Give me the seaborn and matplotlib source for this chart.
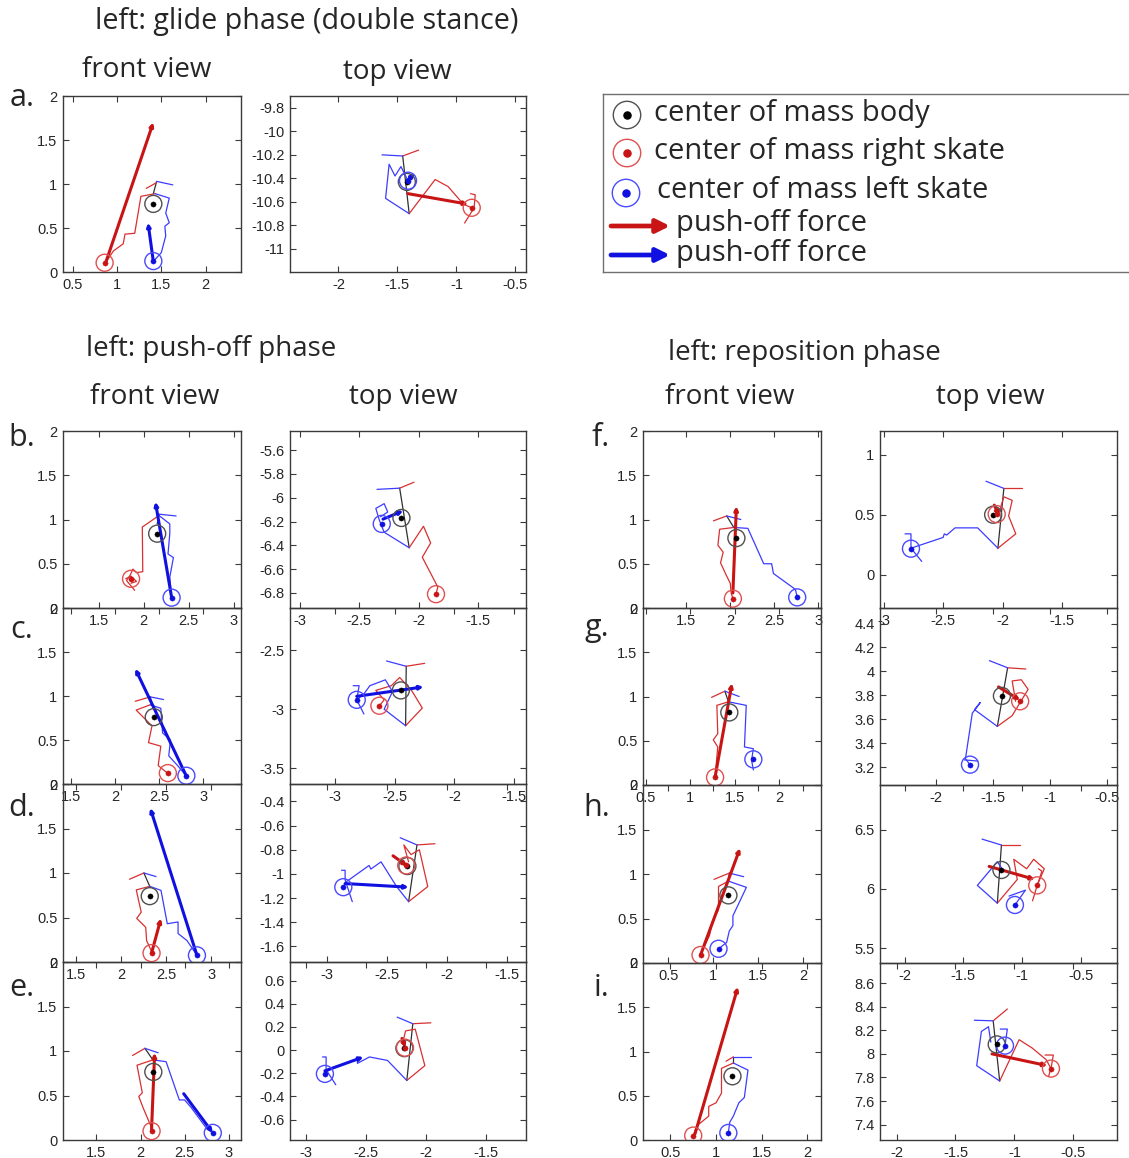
import numpy as np
import pandas as pd
import matplotlib
matplotlib.use("Agg")
import matplotlib.pyplot as plt
import seaborn as sns
from matplotlib.ticker import MultipleLocator, FuncFormatter

# ---------------------------------------------------------------------------
# data: stick figures (red = right leg, blue = left leg), COMs, push-off forces
# com lists are [body, right skate, left skate]
# ---------------------------------------------------------------------------
a_front_red = [[(1.33, 0.95), (1.445, 1.015)],
               [(0.87, 0.105), (0.96, 0.24), (1.07, 0.32), (1.09, 0.43), (1.20, 0.44), (1.22, 0.56), (1.27, 0.86), (1.43, 0.89)]]
a_front_blue = [[(1.445, 1.03), (1.63, 0.99)],
                [(1.43, 0.89), (1.59, 0.84), (1.55, 0.67), (1.59, 0.56), (1.54, 0.52), (1.55, 0.41), (1.50, 0.22), (1.41, 0.12)]]
a_front_black = [[(1.445, 1.02), (1.41, 0.89)]]
a_front_com = [(1.41, 0.774), (0.86, 0.105), (1.41, 0.124)]
a_front_push_red = [(0.87, 0.10), (1.41, 1.70)]
a_front_push_blue = [(1.41, 0.12), (1.35, 0.56)]

a_top_red = [[(-1.455, -10.21), (-1.32, -10.16)],
             [(-1.40, -10.70), (-1.18, -10.41), (-1.07, -10.47), (-0.94, -10.62), (-0.87, -10.65)],
             [(-0.88, -10.53), (-0.84, -10.54), (-0.85, -10.65), (-0.93, -10.78)]]
a_top_blue = [[(-1.63, -10.20), (-1.455, -10.21)],
              [(-1.40, -10.70), (-1.60, -10.57), (-1.57, -10.28), (-1.52, -10.38), (-1.47, -10.30), (-1.42, -10.40)]]
a_top_black = [[(-1.455, -10.21), (-1.40, -10.70)]]
a_top_com = [(-1.42, -10.43), (-0.87, -10.65), (-1.41, -10.42)]
a_top_push_red = [(-1.41, -10.53), (-0.90, -10.62)]
a_top_push_blue = [(-1.42, -10.42), (-1.35, -10.36)]

b_front_red = [[(2.17, 1.045), (1.985, 0.915), (1.99, 0.41), (1.92, 0.40), (1.88, 0.44), (1.85, 0.37), (1.81, 0.31), (1.90, 0.20)],
               [(1.80, 0.33), (1.86, 0.36), (1.92, 0.30), (1.86, 0.28)]]
b_front_blue = [[(2.17, 1.06), (2.36, 1.04)],
                [(2.17, 1.045), (2.29, 0.95), (2.29, 0.84), (2.27, 0.61), (2.33, 0.57), (2.31, 0.46), (2.29, 0.35), (2.31, 0.12)]]
b_front_black = [[(2.17, 1.06), (2.15, 0.95)]]
b_front_com = [(2.15, 0.84), (1.86, 0.33), (2.31, 0.117)]
b_front_push_red = None
b_front_push_blue = [(2.31, 0.12), (2.13, 1.20)]

b_top_red = [[(-2.16, -5.92), (-2.04, -5.87)],
             [(-2.08, -6.42), (-1.96, -6.24), (-1.90, -6.38), (-1.97, -6.50), (-1.84, -6.75), (-1.855, -6.81)]]
b_top_blue = [[(-2.35, -5.93), (-2.16, -5.92)],
              [(-2.08, -6.42), (-2.29, -6.29), (-2.33, -6.19), (-2.36, -6.09), (-2.29, -6.05), (-2.26, -6.12), (-2.32, -6.16)]]
b_top_black = [[(-2.16, -5.92), (-2.08, -6.42)]]
b_top_com = [(-2.145, -6.17), (-1.855, -6.81), (-2.31, -6.22)]
b_top_push_red = None
b_top_push_blue = [(-2.30, -6.18), (-2.13, -6.11)]

c_front_red = [[(2.23, 0.94), (2.40, 0.99)],
               [(2.40, 0.90), (2.24, 0.84), (2.42, 0.66), (2.38, 0.47), (2.52, 0.43), (2.49, 0.21), (2.60, 0.12)]]
c_front_blue = [[(2.40, 0.99), (2.55, 0.96)],
                [(2.40, 0.90), (2.52, 0.86), (2.54, 0.58), (2.63, 0.50), (2.61, 0.32), (2.71, 0.21), (2.81, 0.09)]]
c_front_black = [[(2.40, 0.99), (2.42, 0.90)]]
c_front_com = [(2.44, 0.76), (2.60, 0.124), (2.81, 0.094)]
c_front_push_red = None
c_front_push_blue = [(2.81, 0.09), (2.23, 1.31)]

c_top_red = [[(-2.405, -2.635), (-2.25, -2.61)],
             [(-2.41, -3.14), (-2.27, -2.99), (-2.36, -2.84), (-2.46, -2.73), (-2.53, -2.80), (-2.66, -2.84), (-2.59, -2.92), (-2.63, -2.97)]]
c_top_blue = [[(-2.57, -2.59), (-2.405, -2.635)],
              [(-2.41, -3.14), (-2.59, -3.0), (-2.52, -2.85), (-2.58, -2.75), (-2.71, -2.80), (-2.76, -2.87), (-2.82, -2.92)],
              [(-2.85, -2.80), (-2.80, -2.80), (-2.82, -2.92), (-2.76, -3.04)]]
c_top_black = [[(-2.405, -2.635), (-2.41, -3.14)]]
c_top_com = [(-2.45, -2.84), (-2.63, -2.97), (-2.82, -2.92)]
c_top_push_red = None
c_top_push_blue = [(-2.82, -2.89), (-2.26, -2.81)]

d_front_red = [[(2.09, 0.93), (2.25, 1.0)],
               [(2.315, 0.85), (2.165, 0.81), (2.22, 0.56), (2.17, 0.49), (2.27, 0.39), (2.28, 0.24), (2.33, 0.13)]]
d_front_blue = [[(2.25, 1.0), (2.385, 0.96)],
                [(2.315, 0.85), (2.44, 0.805), (2.51, 0.43), (2.63, 0.45), (2.63, 0.32), (2.73, 0.24), (2.84, 0.075)]]
d_front_black = [[(2.25, 1.0), (2.315, 0.85)]]
d_front_com = [(2.315, 0.74), (2.335, 0.10), (2.84, 0.075)]
d_front_push_red = [(2.335, 0.10), (2.44, 0.49)]
d_front_push_blue = [(2.84, 0.075), (2.32, 1.73)]

d_top_red = [[(-2.25, -0.76), (-2.10, -0.75)],
             [(-2.32, -1.23), (-2.16, -1.105), (-2.23, -0.80), (-2.30, -0.84), (-2.36, -0.76), (-2.32, -0.90)]]
d_top_blue = [[(-2.39, -0.70), (-2.25, -0.76)],
              [(-2.32, -1.23), (-2.42, -1.105), (-2.55, -0.90), (-2.635, -0.96), (-2.65, -0.93), (-2.84, -1.065), (-2.865, -1.11)],
              [(-2.88, -0.97), (-2.85, -0.97), (-2.85, -1.05), (-2.79, -1.23)]]
d_top_black = [[(-2.25, -0.76), (-2.32, -1.23)]]
d_top_com = [(-2.33, -0.935), (-2.34, -0.93), (-2.865, -1.11)]
d_top_push_red = [(-2.45, -0.85), (-2.33, -0.935)]
d_top_push_blue = [(-2.85, -1.08), (-2.32, -1.11)]

e_front_red = [[(1.91, 0.95), (2.05, 1.03)],
               [(2.14, 0.90), (1.96, 0.84), (2.02, 0.53), (1.98, 0.49), (2.03, 0.36), (2.12, 0.15)]]
e_front_blue = [[(2.05, 1.03), (2.20, 0.98)],
                [(2.14, 0.90), (2.29, 0.88), (2.44, 0.45), (2.50, 0.45), (2.57, 0.37), (2.75, 0.13), (2.82, 0.08)]]
e_front_black = [[(2.05, 1.03), (2.14, 0.90)]]
e_front_com = [(2.145, 0.765), (2.125, 0.10), (2.82, 0.08)]
e_front_push_red = [(2.125, 0.12), (2.16, 0.98)]
e_front_push_blue = [(2.49, 0.52), (2.82, 0.08)]

e_top_red = [[(-2.11, 0.227), (-1.96, 0.235)],
             [(-2.16, -0.263), (-2.01, -0.135), (-2.09, 0.18), (-2.17, 0.165), (-2.19, 0.08)]]
e_top_blue = [[(-2.24, 0.284), (-2.11, 0.227)],
              [(-2.16, -0.263), (-2.32, -0.09), (-2.47, -0.06), (-2.57, -0.115), (-2.57, -0.08), (-2.80, -0.165), (-2.84, -0.206)],
              [(-2.86, -0.06), (-2.83, -0.06), (-2.83, -0.17), (-2.75, -0.30)]]
e_top_black = [[(-2.11, 0.227), (-2.16, -0.263)]]
e_top_com = [(-2.18, 0.016), (-2.175, 0.02), (-2.84, -0.206)]
e_top_push_red = [(-2.20, 0.10), (-2.17, 0.02)]
e_top_push_blue = [(-2.84, -0.18), (-2.52, -0.06)]

f_front_red = [[(1.81, 0.985), (1.96, 1.04)],
               [(2.04, 0.91), (1.88, 0.89), (1.86, 0.71), (1.92, 0.63), (1.89, 0.51), (1.96, 0.36), (2.00, 0.28), (2.01, 0.17), (2.03, 0.11)]]
f_front_blue = [[(1.96, 1.04), (2.12, 1.00)],
                [(2.04, 0.91), (2.20, 0.90), (2.38, 0.50), (2.47, 0.50), (2.49, 0.39), (2.74, 0.21), (2.76, 0.12)]]
f_front_black = [[(1.96, 1.04), (2.04, 0.91)]]
f_front_com = [(2.07, 0.79), (2.03, 0.106), (2.76, 0.12)]
f_front_push_red = [(2.03, 0.17), (2.07, 1.15)]
f_front_push_blue = None

f_top_red = [[(-1.99, 0.72), (-1.84, 0.72)],
             [(-2.04, 0.22), (-1.89, 0.34), (-1.95, 0.49), (-1.92, 0.62), (-1.99, 0.65), (-2.03, 0.52)]]
f_top_blue = [[(-2.14, 0.78), (-1.99, 0.72)],
              [(-2.04, 0.22), (-2.21, 0.39), (-2.40, 0.39), (-2.47, 0.33), (-2.49, 0.34), (-2.50, 0.31), (-2.77, 0.22)],
              [(-2.82, 0.34), (-2.77, 0.34), (-2.77, 0.22), (-2.68, 0.11)]]
f_top_black = [[(-1.99, 0.72), (-2.04, 0.22)]]
f_top_com = [(-2.08, 0.50), (-2.05, 0.505), (-2.77, 0.216)]
f_top_push_red = [(-2.07, 0.58), (-2.03, 0.49)]
f_top_push_blue = None

g_front_red = [[(1.24, 0.99), (1.39, 1.06)],
               [(1.43, 0.94), (1.30, 0.90), (1.31, 0.58), (1.26, 0.51), (1.31, 0.43), (1.28, 0.09)]]
g_front_blue = [[(1.39, 1.06), (1.55, 1.00)],
                [(1.43, 0.94), (1.63, 0.90), (1.61, 0.43), (1.71, 0.41), (1.69, 0.28), (1.71, 0.17)]]
g_front_black = [[(1.39, 1.06), (1.43, 0.94)]]
g_front_com = [(1.44, 0.82), (1.28, 0.086), (1.71, 0.29)]
g_front_push_red = [(1.28, 0.09), (1.47, 1.15)]
g_front_push_blue = None

g_top_red = [[(-1.37, 4.03), (-1.21, 4.02)],
             [(-1.46, 3.54), (-1.33, 3.63), (-1.19, 3.85), (-1.25, 3.93), (-1.33, 3.92), (-1.30, 3.75)]]
g_top_blue = [[(-1.53, 4.09), (-1.37, 4.03)],
              [(-1.46, 3.54), (-1.66, 3.68), (-1.61, 3.74), (-1.68, 3.65), (-1.74, 3.27), (-1.70, 3.22)],
              [(-1.75, 3.26), (-1.63, 3.25)]]
g_top_black = [[(-1.37, 4.03), (-1.46, 3.54)]]
g_top_com = [(-1.42, 3.795), (-1.26, 3.75), (-1.70, 3.22)]
g_top_push_red = [(-1.45, 3.87), (-1.26, 3.76)]
g_top_push_blue = None

h_front_red = [[(1.01, 0.94), (1.18, 1.01)],
               [(1.17, 0.92), (1.06, 0.86), (1.06, 0.60), (0.99, 0.46), (0.96, 0.31), (0.89, 0.16), (0.86, 0.09)]]
h_front_blue = [[(1.18, 1.01), (1.34, 0.97)],
                [(1.17, 0.92), (1.37, 0.85), (1.22, 0.53), (1.22, 0.42), (1.18, 0.36), (1.15, 0.23), (1.06, 0.16)]]
h_front_black = [[(1.18, 1.01), (1.17, 0.92)]]
h_front_com = [(1.17, 0.76), (0.86, 0.09), (1.06, 0.16)]
h_front_push_red = [(0.86, 0.09), (1.30, 1.29)]
h_front_push_blue = None

h_top_red = [[(-1.175, 6.37), (-1.02, 6.37)],
             [(-1.21, 5.88), (-1.04, 6.08), (-1.07, 6.25), (-0.96, 6.17), (-0.90, 6.25), (-0.81, 6.17), (-0.87, 6.03)],
             [(-0.86, 6.17), (-0.83, 6.15), (-0.87, 6.03), (-0.91, 5.90)]]
h_top_blue = [[(-1.34, 6.42), (-1.175, 6.37)],
              [(-1.21, 5.88), (-1.38, 6.03), (-1.21, 6.23), (-1.17, 6.17)],
              [(-1.11, 5.94), (-0.97, 5.99), (-1.06, 5.865)]]
h_top_black = [[(-1.175, 6.37), (-1.21, 5.88)]]
h_top_com = [(-1.175, 6.16), (-0.87, 6.03), (-1.06, 5.865)]
h_top_push_red = [(-1.28, 6.19), (-0.89, 6.08)]
h_top_push_blue = None

i_front_red = [[(1.11, 0.89), (1.19, 0.94)],
               [(1.19, 0.87), (1.06, 0.81), (1.06, 0.53), (1.00, 0.42), (0.92, 0.38), (0.92, 0.27), (0.79, 0.16), (0.75, 0.05)]]
i_front_blue = [[(1.19, 0.94), (1.38, 0.94)],
                [(1.19, 0.87), (1.35, 0.79), (1.31, 0.48), (1.25, 0.42), (1.19, 0.27), (1.15, 0.20), (1.135, 0.08)]]
i_front_black = [[(1.19, 0.94), (1.19, 0.87)]]
i_front_com = [(1.18, 0.72), (0.75, 0.05), (1.135, 0.08)]
i_front_push_red = [(0.77, 0.07), (1.24, 1.73)]
i_front_push_blue = None

i_top_red = [[(-1.18, 8.28), (-1.06, 8.38)],
             [(-1.125, 7.77), (-0.96, 8.12), (-0.85, 8.05), (-0.73, 7.95), (-0.69, 7.875)],
             [(-0.74, 7.99), (-0.67, 7.99), (-0.69, 7.875), (-0.71, 7.81)]]
i_top_blue = [[(-1.34, 8.285), (-1.18, 8.28)],
              [(-1.125, 7.77), (-1.32, 7.90), (-1.28, 8.19), (-1.22, 8.23), (-1.20, 8.10)],
              [(-1.12, 8.21), (-1.06, 8.21), (-1.08, 8.07)]]
i_top_black = [[(-1.18, 8.28), (-1.125, 7.77)]]
i_top_com = [(-1.15, 8.08), (-0.69, 7.875), (-1.08, 8.07)]
i_top_push_red = [(-1.19, 8.0), (-0.72, 7.90)]
i_top_push_blue = None

# axis ranges per panel (front x, top x, top y) and top-view y tick step
front_xlim = {"a": (0.39, 2.40), "b": (1.105, 3.08), "c": (1.41, 3.43), "d": (1.35, 3.33), "e": (1.12, 3.14),
              "f": (1.01, 3.03), "g": (0.47, 2.47), "h": (0.22, 2.20), "i": (0.20, 2.15)}
top_xlim = {"a": (-2.41, -0.41), "b": (-3.08, -1.10), "c": (-3.38, -1.40), "d": (-3.31, -1.34), "e": (-3.13, -1.17),
            "f": (-3.03, -1.04), "g": (-2.49, -0.41), "h": (-2.21, -0.19), "i": (-2.14, -0.13)}
top_ylim = {"a": (-11.196, -9.70), "b": (-6.926, -5.44), "c": (-3.635, -2.14), "d": (-1.73, -0.255), "e": (-0.777, 0.76),
            "f": (-0.28, 1.2), "g": (3.05, 4.53), "h": (5.376, 6.876), "i": (7.27, 8.77)}
top_ystep = {"a": 0.2, "b": 0.2, "c": 0.5, "d": 0.2, "e": 0.2, "f": 0.5, "g": 0.2, "h": 0.5, "i": 0.2}

# ---------------------------------------------------------------------------
W, H = 1129, 1158
RED_LINE, BLUE_LINE, BLACK_LINE = "#d83030", "#3c3cff", "#303030"
RED_RING, BLUE_RING, BODY_RING = "#e05050", "#4a4aff", "#505050"
RED_FORCE, BLUE_FORCE = "#c81414", "#1010e0"
TITLE_FONT = ["Open Sans", "DejaVu Sans"]

sns.set_style("ticks", {"xtick.direction": "in", "ytick.direction": "in", "axes.edgecolor": "#3a3a3a"})
plt.rcParams["font.family"] = ["Liberation Sans", "DejaVu Sans"]

fig = plt.figure(figsize=(W / 100, H / 100), dpi=100)
fig.patch.set_facecolor("white")


def px_axes(left, top, right, bottom):
    ax = fig.add_axes([left / W, 1 - bottom / H, (right - left) / W, (bottom - top) / H])
    ax.set_facecolor("none")
    return ax


def draw_path(ax, segs, color, lw):
    rows = [(k, x, y) for k, seg in enumerate(segs) for x, y in seg]
    df = pd.DataFrame(rows, columns=["seg", "x", "y"])
    sns.lineplot(data=df, x="x", y="y", units="seg", estimator=None, sort=False,
                 color=color, linewidth=lw, ax=ax, legend=False)


def draw_force(ax, seg, color):
    if seg is None:
        return
    (x0, y0), (x1, y1) = seg
    ax.annotate("", xy=(x1, y1), xytext=(x0, y0),
                arrowprops=dict(arrowstyle="-|>", color=color, lw=2.2, mutation_scale=5,
                                shrinkA=0, shrinkB=0))


def draw_com(ax, com):
    colors = [(BODY_RING, "black"), (RED_RING, RED_FORCE), (BLUE_RING, BLUE_FORCE)]
    for (x, y), (ring, dot) in zip(com, colors):
        ax.scatter([x], [y], s=150, facecolors="none", edgecolors=ring, linewidths=1.0, zorder=4)
        sns.scatterplot(x=[x], y=[y], s=14, color=dot, edgecolor=dot, ax=ax, zorder=5, legend=False)


def style_axes(ax, xlim, ylim, xstep, ystep):
    ax.set_xlim(*xlim)
    ax.set_ylim(*ylim)
    ax.set_xlabel("")
    ax.set_ylabel("")
    ax.xaxis.set_major_locator(MultipleLocator(xstep))
    ax.yaxis.set_major_locator(MultipleLocator(ystep))
    fmt = FuncFormatter(lambda v, p: f"{round(v, 6) + 0:g}")
    ax.xaxis.set_major_formatter(fmt)
    ax.yaxis.set_major_formatter(fmt)
    ax.tick_params(which="both", direction="in", top=True, right=True, length=4, width=0.8,
                   labelsize=10.5, pad=4, color="#3a3a3a")
    for sp in ax.spines.values():
        sp.set_linewidth(1.0)
        sp.set_visible(True)


def draw_panel(ax, name, view):
    g = globals()
    p = f"{name}_{view}_"
    draw_path(ax, g[p + "black"], BLACK_LINE, 0.9)
    draw_path(ax, g[p + "red"], RED_LINE, 0.9)
    draw_path(ax, g[p + "blue"], BLUE_LINE, 0.9)
    draw_force(ax, g[p + "push_red"], RED_FORCE)
    draw_force(ax, g[p + "push_blue"], BLUE_FORCE)
    draw_com(ax, g[p + "com"])
    if view == "front":
        style_axes(ax, front_xlim[name], (0, 2), 0.5, 0.5)
    else:
        style_axes(ax, top_xlim[name], top_ylim[name], 0.5, top_ystep[name])


# panel boxes in pixels: rows (top, bottom) and columns (front l/r, top l/r)
boxes = {"a": (96, 272), "b": (431, 608), "c": (608, 784), "d": (784, 962), "e": (962, 1140),
         "f": (431, 608), "g": (608, 785), "h": (785, 963), "i": (963, 1140)}
left_cols = (63, 241, 290, 526)
right_cols = (643, 821, 880, 1117)

for name in "abcdefghi":
    top, bottom = boxes[name]
    fl, fr, tl, tr = left_cols if name in "abcde" else right_cols
    axf = px_axes(fl, top, fr, bottom)
    draw_panel(axf, name, "front")
    axt = px_axes(tl, top, tr, bottom)
    draw_panel(axt, name, "top")


def ftext(x, y, s, size, **kw):
    fig.text(x / W, 1 - y / H, s, fontsize=size, ha="center", va="center", family=TITLE_FONT, **kw)


ftext(307, 22, "left: glide phase (double stance)", 20.6)
ftext(147, 70, "front view", 20)
ftext(397, 72, "top view", 20)
ftext(211, 349, "left: push-off phase", 20)
ftext(155, 397, "front view", 20)
ftext(403, 397, "top view", 20)
ftext(804, 353, "left: reposition phase", 20)
ftext(730, 397, "front view", 20)
ftext(990, 397, "top view", 20)

panel_labels = {"a.": (22, 98), "b.": (22, 438), "c.": (22, 630), "d.": (22, 808), "e.": (22, 988),
                "f.": (601, 438), "g.": (597, 628), "h.": (597, 808), "i.": (601, 988)}
for lab, (x, y) in panel_labels.items():
    ftext(x, y, lab, 22)

# legend box drawn in pixel coordinates
lax = fig.add_axes([603 / W, 1 - 272 / H, (1140 - 603) / W, (272 - 94) / H])
lax.set_xlim(603, 1140)
lax.set_ylim(272, 94)
lax.set_xticks([])
lax.set_yticks([])
for sp in lax.spines.values():
    sp.set_color("#707070")
    sp.set_linewidth(1.0)

legend_rings = [(627, 115, BODY_RING, "black", 654, 113, "center of mass body"),
                (627, 153, RED_RING, RED_FORCE, 654, 151, "center of mass right skate"),
                (626, 193, BLUE_RING, BLUE_FORCE, 657, 190, "center of mass left skate")]
for cx, cy, ring, dot, tx, ty, label in legend_rings:
    lax.scatter([cx], [cy], s=390, facecolors="none", edgecolors=ring, linewidths=1.0)
    lax.scatter([cx], [cy], s=26, color=dot)
    lax.text(tx, ty, label, fontsize=21, va="center", ha="left", family=TITLE_FONT)

for y, color in [(226, RED_FORCE), (255, BLUE_FORCE)]:
    lax.annotate("", xy=(670, y), xytext=(611, y),
                 arrowprops=dict(arrowstyle="-|>", color=color, lw=3.4, mutation_scale=20,
                                 shrinkA=0, shrinkB=0))
    lax.text(676, y - 2, "push-off force", fontsize=21, va="center", ha="left", family=TITLE_FONT)

fig.savefig("out.png", dpi=100, facecolor="white")
